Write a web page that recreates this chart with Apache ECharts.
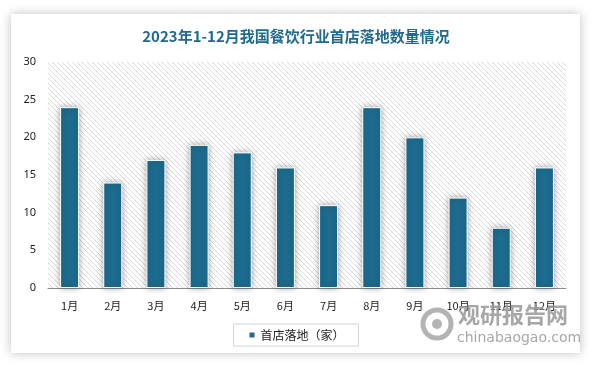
<!DOCTYPE html>
<html><head><meta charset="utf-8">
<script src="https://cdn.jsdelivr.net/npm/echarts@6/dist/echarts.min.js"></script>
<style>html,body{margin:0;padding:0;background:#fff}#c{width:592px;height:370px}</style>
</head><body><div id="c"></div>
<script>
var titleText = '2023年1-12月我国餐饮行业首店落地数量情况';
var categories = ['1月','2月','3月','4月','5月','6月','7月','8月','9月','10月','11月','12月'];
var seriesName = '首店落地（家）';
var values = [24,14,17,19,18,16,11,24,20,12,8,16];
var yTicks = {min:0, max:30, interval:5};

// hatch pattern
var pc = document.createElement('canvas');
pc.width = 5; pc.height = 5;
var g = pc.getContext('2d');
g.fillStyle = '#ffffff'; g.fillRect(0,0,5,5);
g.strokeStyle = '#d9d9d9'; g.lineWidth = 1;
g.beginPath(); g.moveTo(-1,-1); g.lineTo(6,6); g.moveTo(-1,4); g.lineTo(1,6); g.moveTo(4,-1); g.lineTo(6,1); g.stroke();

var chart = echarts.init(document.getElementById('c'), null, {renderer:'canvas'});
chart.setOption({
  backgroundColor:'#ffffff',
  animation:false,
  title:{text:titleText,left:'center',top:24,textStyle:{color:'#1f6a8d',fontSize:15,fontWeight:'bold',fontFamily:'Noto Sans CJK SC'}},
  grid:{left:48,right:26,top:62,bottom:82,show:true,borderWidth:0,backgroundColor:{image:pc,repeat:'repeat'}},
  legend:{bottom:24,left:'center',itemWidth:7,itemHeight:7,icon:'rect',borderColor:'#d6d6d6',borderWidth:1,padding:[5,14,5,14],
    textStyle:{fontSize:12,color:'#222',fontFamily:'Noto Sans CJK SC'}},
  xAxis:{type:'category',data:categories,axisTick:{show:false},axisLine:{lineStyle:{color:'#8c8c8c',width:1}},
    axisLabel:{color:'#222',fontSize:11,margin:12,fontFamily:'Noto Sans CJK SC'}},
  yAxis:{type:'value',min:yTicks.min,max:yTicks.max,interval:yTicks.interval,splitLine:{show:false},axisLine:{show:false},axisTick:{show:false},
    axisLabel:{color:'#222',fontSize:11,margin:12,fontFamily:'Noto Sans'}},
  graphic:[
    {type:'rect',z:-10,shape:{x:11,y:14,width:569,height:339},style:{fill:'#fff',shadowBlur:10,shadowColor:'rgba(0,0,0,0.25)'}},
    {type:'text',z:100,left:458,top:304,style:{text:'观研报告网',fill:'rgba(150,150,150,0.85)',font:'bold 22px "Noto Sans CJK SC"'}},
    {type:'text',z:100,left:457,top:331,style:{text:'chinabaogao.com',fill:'rgba(150,150,150,0.85)',font:'14px "DejaVu Sans"'}},
    {type:'circle',z:100,shape:{cx:437,cy:324,r:14},style:{fill:'none',stroke:'rgba(160,160,160,0.8)',lineWidth:5}},
    {type:'circle',z:100,shape:{cx:437,cy:324,r:5},style:{fill:'rgba(160,160,160,0.8)'}}
  ],
  series:[{name:seriesName,type:'bar',data:values,barWidth:'44%',
    itemStyle:{color:'#1d6b8e',borderColor:'#ffffff',borderWidth:1,shadowBlur:6,shadowColor:'rgba(0,0,0,0.35)'}}]
});
</script></body></html>
